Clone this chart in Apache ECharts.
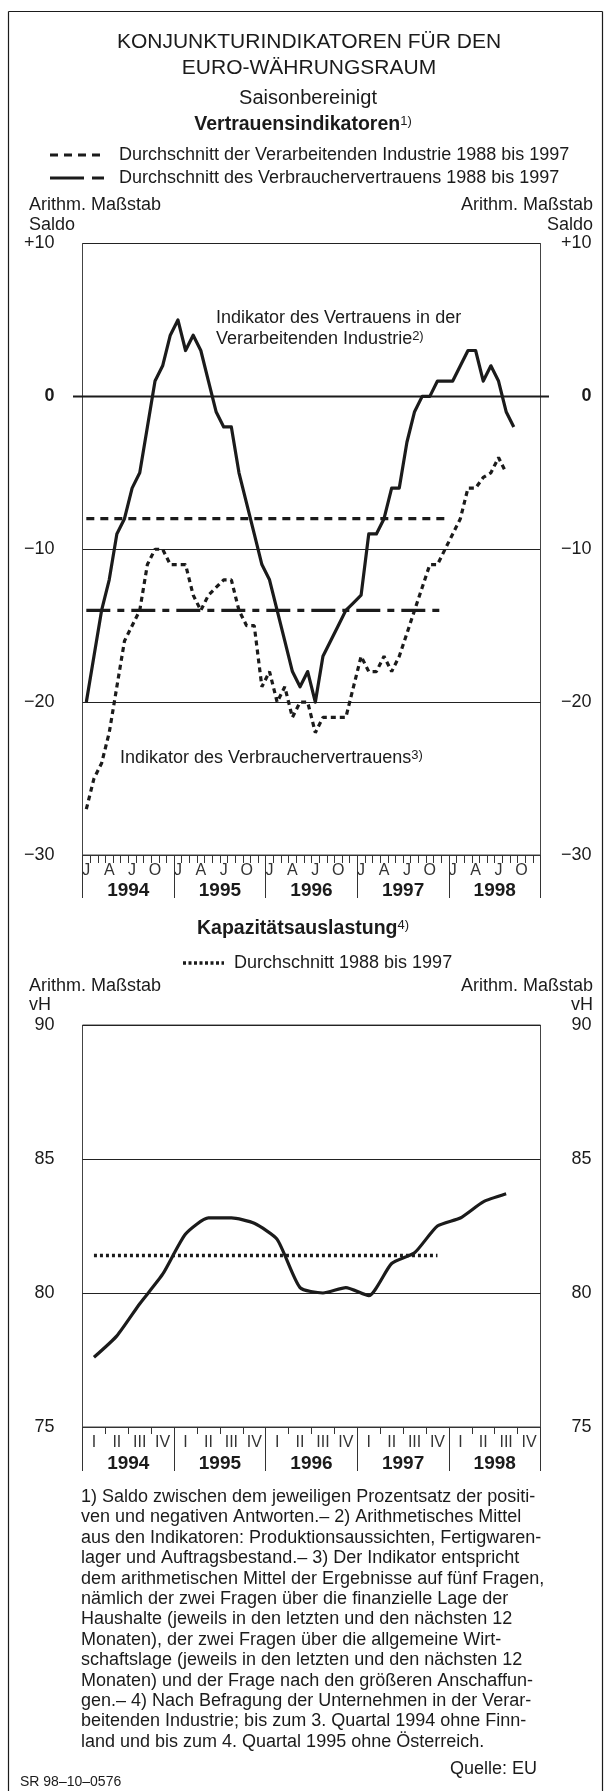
<!DOCTYPE html>
<html>
<head>
<meta charset="utf-8">
<script src="https://cdn.jsdelivr.net/npm/echarts@6/dist/echarts.min.js"></script>
<style>
  html, body { margin: 0; padding: 0; background: #fff; }
  #chart { width: 610px; height: 1791px; }
</style>
</head>
<body>
<div id="chart"></div>
<script>
const chart = echarts.init(document.getElementById('chart'));
const font = '"Liberation Sans", Arial, sans-serif';
const ink = '#1b1b1b';

// Axis categories
const years = ['1994', '1995', '1996', '1997', '1998'];
const monthLetters = ['J', 'F', 'M', 'A', 'M', 'J', 'J', 'A', 'S', 'O', 'N', 'D'];
const shownMonths = ['J', '', '', 'A', '', '', 'J', '', '', 'O', '', ''];
const quarters = ['I', 'II', 'III', 'IV'];

// Vertrauensindikatoren, monthly from Jan 1994 (Saldo)
const industry = [
  -20, -17, -14, -12, -9, -8, -6, -5, -2, 1, 2, 4,
  5, 3, 4, 3, 1, -1, -2, -2, -5, -7, -9, -11,
  -12, -14, -16, -18, -19, -18, -20, -17, -16, -15, -14, -13.5,
  -13, -9, -9, -8, -6, -6, -3, -1, 0, 0, 1, 1,
  1, 2, 3, 3, 1, 2, 1, -1, -2
];
const consumer = [
  -27, -25, -24, -22, -19, -16, -15, -14, -11, -10, -10, -11,
  -11, -11, -13, -14, -13, -12.5, -12, -12, -14, -15, -15, -19,
  -18, -20, -19, -21, -20, -20, -22, -21, -21, -21, -21, -19,
  -17, -18, -18, -17, -18, -17, -15.5, -14, -12.5, -11, -11, -10,
  -9, -8, -6, -6, -5.3, -5, -4, -5
];
// Durchschnitt 1988 bis 1997, drawn over 1994-1997
const industryAvg = -8;
const consumerAvg = -14;
const avgMonths = 48;

// Kapazitätsauslastung, quarterly from 1994 I (vH)
const capacity = [
  77.6, 78.4, 79.6, 80.7,
  82.2, 82.8, 82.8, 82.6,
  82.0, 80.2, 80.0, 80.2,
  79.9, 81.1, 81.5, 82.5,
  82.8, 83.4, 83.7
];
const capacityAvg = 81.4;
const avgQuarters = 16;

const notes = [
  '1) Saldo zwischen dem jeweiligen Prozentsatz der positi-',
  'ven und negativen Antworten.– 2) Arithmetisches Mittel',
  'aus den Indikatoren: Produktionsaussichten, Fertigwaren-',
  'lager und Auftragsbestand.– 3) Der Indikator entspricht',
  'dem arithmetischen Mittel der Ergebnisse auf fünf Fragen,',
  'nämlich der zwei Fragen über die finanzielle Lage der',
  'Haushalte (jeweils in den letzten und den nächsten 12',
  'Monaten), der zwei Fragen über die allgemeine Wirt-',
  'schaftslage (jeweils in den letzten und den nächsten 12',
  'Monaten) und der Frage nach den größeren Anschaffun-',
  'gen.– 4) Nach Befragung der Unternehmen in der Verar-',
  'beitenden Industrie; bis zum 3. Quartal 1994 ohne Finn-',
  'land und bis zum 4. Quartal 1995 ohne Österreich.'
];

const monthIds = [];
years.forEach((y) => monthLetters.forEach((m, k) => monthIds.push(y + '-' + k)));
const quarterIds = [];
years.forEach((y) => quarters.forEach((q) => quarterIds.push(y + '-' + q)));

const plotLeft = 82.5;
const plotRight = 610 - 540.5;
const lineW = 3.2;

function signed(v) {
  if (v === 0) return '{b|0}';
  return v > 0 ? '+' + v : '\u2212' + Math.abs(v);
}

const labelText = { fontFamily: font, fontSize: 18, color: ink };

function yAxisFor(gridIndex, min, max, interval, side, formatter) {
  return {
    gridIndex: gridIndex,
    type: 'value',
    position: side,
    min: min,
    max: max,
    interval: interval,
    axisLine: { show: false },
    axisTick: { show: false },
    splitLine: { show: side === 'left', lineStyle: { color: '#222', width: 1 } },
    axisLabel: Object.assign({}, labelText, {
      formatter: formatter,
      align: 'right',
      margin: side === 'left' ? 28 : 51,
      rich: { b: { fontFamily: font, fontSize: 18, fontWeight: 'bold', color: ink } }
    })
  };
}

function yearAxis(gridIndex, tickLen, labelMargin) {
  return {
    gridIndex: gridIndex,
    type: 'category',
    position: 'bottom',
    data: years,
    boundaryGap: true,
    axisLine: { show: false, onZero: false },
    axisTick: { show: true, interval: 0, length: tickLen, lineStyle: { color: '#333', width: 1 } },
    axisLabel: {
      interval: 0, margin: labelMargin, fontFamily: font, fontSize: 19,
      fontWeight: 'bold', color: ink
    }
  };
}

function periodAxis(gridIndex, ids, tickLen, formatter) {
  return {
    gridIndex: gridIndex,
    type: 'category',
    position: 'bottom',
    data: ids,
    boundaryGap: true,
    axisLine: { show: true, onZero: false, lineStyle: { color: '#333', width: 1 } },
    axisTick: { show: true, interval: 0, length: tickLen, lineStyle: { color: '#333', width: 1 } },
    axisLabel: {
      interval: 0, margin: 8, fontFamily: font, fontSize: 16, color: '#333',
      formatter: formatter
    }
  };
}

const option = {
  animation: false,
  backgroundColor: '#fff',
  grid: [
    { left: plotLeft, right: plotRight, top: 243.5, height: 611.5,
      show: true, borderColor: '#444', borderWidth: 1, backgroundColor: 'transparent' },
    { left: plotLeft, right: plotRight, top: 1025, height: 402,
      show: true, borderColor: '#444', borderWidth: 1, backgroundColor: 'transparent' }
  ],
  xAxis: [
    periodAxis(0, monthIds, 8, (v, idx) => shownMonths[idx % 12]),
    yearAxis(0, 43, 26),
    periodAxis(1, quarterIds, 7, (v, idx) => quarters[idx % 4]),
    yearAxis(1, 44, 27)
  ],
  yAxis: [
    yAxisFor(0, -30, 10, 10, 'left', signed),
    yAxisFor(0, -30, 10, 10, 'right', signed),
    yAxisFor(1, 75, 90, 5, 'left', (v) => String(v)),
    yAxisFor(1, 75, 90, 5, 'right', (v) => String(v))
  ],
  series: [
    {
      name: 'Verarbeitende Industrie',
      type: 'line', xAxisIndex: 0, yAxisIndex: 0,
      data: industry, symbol: 'none', z: 5,
      lineStyle: { color: ink, width: lineW, join: 'round' }
    },
    {
      name: 'Verbrauchervertrauen',
      type: 'line', xAxisIndex: 0, yAxisIndex: 0,
      data: consumer, symbol: 'none', z: 4,
      lineStyle: { color: ink, width: lineW, type: [5, 4] }
    },
    {
      name: 'Durchschnitt Industrie',
      type: 'line', xAxisIndex: 0, yAxisIndex: 0,
      data: new Array(avgMonths).fill(industryAvg), symbol: 'none', z: 3,
      lineStyle: { color: ink, width: lineW, type: [8, 6] }
    },
    {
      name: 'Durchschnitt Verbraucher',
      type: 'line', xAxisIndex: 0, yAxisIndex: 0,
      data: new Array(avgMonths).fill(consumerAvg), symbol: 'none', z: 3,
      lineStyle: { color: ink, width: lineW, type: [24, 7, 7, 7] }
    },
    {
      name: 'Kapazitätsauslastung',
      type: 'line', xAxisIndex: 2, yAxisIndex: 2,
      data: capacity, symbol: 'none', smooth: 0.2, z: 5,
      lineStyle: { color: ink, width: lineW, join: 'round' }
    },
    {
      name: 'Durchschnitt Kapazität',
      type: 'line', xAxisIndex: 2, yAxisIndex: 2,
      data: new Array(avgQuarters).fill(capacityAvg), symbol: 'none', z: 3,
      lineStyle: { color: ink, width: 3.4, type: [3, 3] }
    }
  ]
};

chart.setOption(option);

function txt(x, y, text, opts) {
  return {
    type: 'text', x: x, y: y, silent: true,
    style: Object.assign({
      text: text, fontFamily: font, fontSize: 18, fill: ink,
      align: 'left', verticalAlign: 'middle'
    }, opts || {})
  };
}

function seg(x1, y1, x2, y2, dash, width) {
  return {
    type: 'line', silent: true,
    shape: { x1: x1, y1: y1, x2: x2, y2: y2 },
    style: { stroke: ink, lineWidth: width || lineW, lineDash: dash || null }
  };
}

const supRich = {
  b: { fontFamily: font, fontSize: 19.5, fontWeight: 'bold', fill: ink },
  n: { fontFamily: font, fontSize: 18, fill: ink },
  s: { fontFamily: font, fontSize: 13, fill: ink, verticalAlign: 'top' }
};

// Zero line of the top chart reaches a little past the frame
const yZero = chart.convertToPixel({ yAxisIndex: 0 }, 0);

const elements = [
  // frame
  seg(8.5, 11.5, 602.5, 11.5, null, 1.2),
  seg(8.5, 11.5, 8.5, 1791, null, 1.2),
  seg(602.5, 11.5, 602.5, 1791, null, 1.2),
  seg(73, yZero, 549, yZero, null, 2),

  txt(309, 42, 'KONJUNKTURINDIKATOREN FÜR DEN', { align: 'center', fontSize: 21 }),
  txt(309, 68, 'EURO-WÄHRUNGSRAUM', { align: 'center', fontSize: 21 }),
  txt(308, 98, 'Saisonbereinigt', { align: 'center', fontSize: 20 }),
  txt(303, 125, '{b|Vertrauensindikatoren}{s|1)}', { align: 'center', rich: supRich }),

  seg(50, 155, 105, 155, [8, 6]),
  txt(119, 155, 'Durchschnitt der Verarbeitenden Industrie 1988 bis 1997'),
  seg(50, 178, 105, 178, [34, 8, 12, 10]),
  txt(119, 178, 'Durchschnitt des Verbrauchervertrauens 1988 bis 1997'),

  txt(29, 205, 'Arithm. Maßstab'),
  txt(29, 225, 'Saldo'),
  txt(593, 205, 'Arithm. Maßstab', { align: 'right' }),
  txt(593, 225, 'Saldo', { align: 'right' }),

  txt(216, 318, 'Indikator des Vertrauens in der'),
  txt(216, 339, '{n|Verarbeitenden Industrie}{s|2)}', { rich: supRich }),
  txt(120, 758, '{n|Indikator des Verbrauchervertrauens}{s|3)}', { rich: supRich }),

  txt(303, 929, '{b|Kapazitätsauslastung}{s|4)}', { align: 'center', rich: supRich }),
  seg(183, 963, 224, 963, [3, 2.5], 3.4),
  txt(234, 963, 'Durchschnitt 1988 bis 1997'),
  txt(29, 986, 'Arithm. Maßstab'),
  txt(29, 1005, 'vH'),
  txt(593, 986, 'Arithm. Maßstab', { align: 'right' }),
  txt(593, 1005, 'vH', { align: 'right' }),

  txt(537, 1769, 'Quelle: EU', { align: 'right' }),
  txt(20, 1782, 'SR 98\u201310\u20130576', { fontSize: 14 })
];

notes.forEach((line, k) => {
  elements.push(txt(81, 1497 + k * 20.4, line));
});

chart.setOption({ graphic: elements });
</script>
</body>
</html>
